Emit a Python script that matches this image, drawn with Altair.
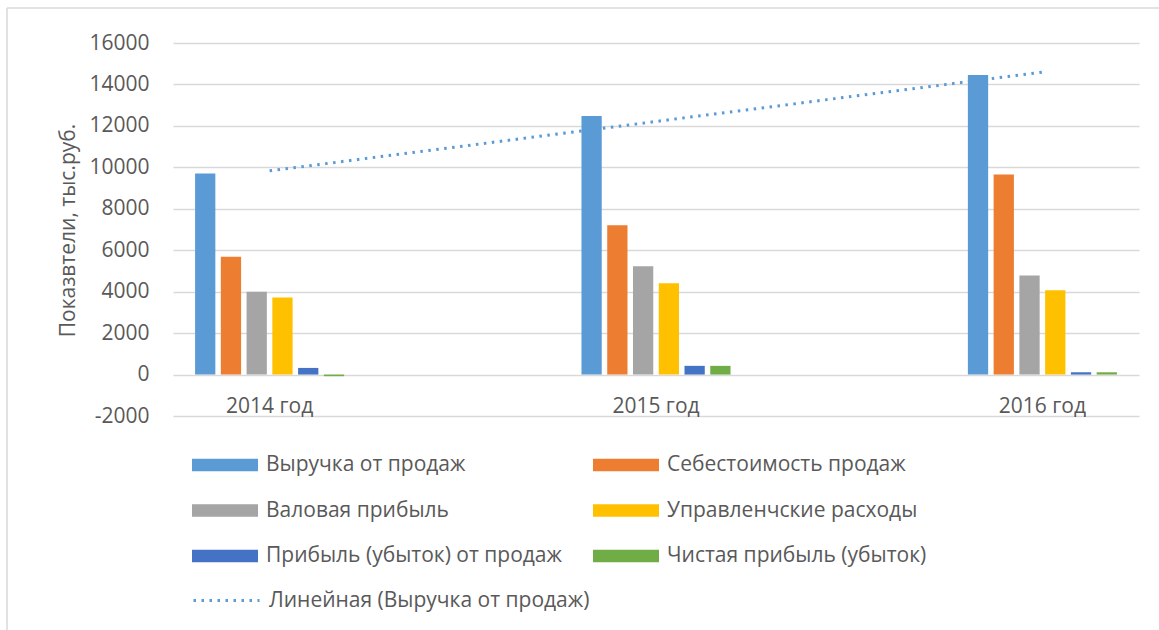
import altair as alt
import pandas as pd

categories = ["2014 год", "2015 год", "2016 год"]
series = [
    "Выручка от продаж",
    "Себестоимость продаж",
    "Валовая прибыль",
    "Управленчские расходы",
    "Прибыль (убыток) от продаж",
    "Чистая прибыль (убыток)",
]
colors = ["#5B9BD5", "#ED7D31", "#A5A5A5", "#FFC000", "#4472C4", "#70AD47"]

revenue = [9700, 12480, 14460]
cost = [5690, 7210, 9650]
gross = [4000, 5230, 4780]
admin = [3720, 4410, 4070]
sales_profit = [320, 420, 110]
net_profit = [-80, 420, 110]

trend_label = "Линейная (Выручка от продаж)"
y_title = "Показвтели, тыс.руб."
y_ticks = [-2000, 0, 2000, 4000, 6000, 8000, 10000, 12000, 14000, 16000]

all_values = [revenue, cost, gross, admin, sales_profit, net_profit]
rows = []
for s, vals in zip(series, all_values):
    for c, v in zip(categories, vals):
        rows.append({"year": c, "series": s, "value": v})
bars_df = pd.DataFrame(rows)
trend_df = pd.DataFrame({"idx": list(range(len(categories))), "revenue": revenue,
                         "trend": [trend_label] * len(categories)})

TXT = "#595959"
GRID = "#D9D9D9"
FS = 21

bars = alt.Chart(bars_df).mark_bar().encode(
    x=alt.X(
        "year:N", sort=categories, title=None,
        scale=alt.Scale(paddingInner=0.6, paddingOuter=0.05),
        axis=alt.Axis(labelAngle=0, domain=False, ticks=False, grid=False,
                      labelBaseline="alphabetic", labelPadding=-3.5,
                      labelFontSize=FS, labelColor=TXT),
    ),
    xOffset=alt.XOffset("series:N", sort=series,
                        scale=alt.Scale(paddingInner=0.213, paddingOuter=0.107)),
    y=alt.Y(
        "value:Q",
        scale=alt.Scale(domain=[-2000, 16000], nice=False),
        axis=alt.Axis(values=y_ticks, labelExpr="'' + datum.value", grid=True,
                      gridColor=GRID, gridWidth=1.3, domain=False, ticks=False,
                      labelPadding=24, labelFontSize=FS, labelColor=TXT,
                      title=y_title, titleFontSize=FS, titleFontWeight="normal",
                      titleColor=TXT, titleAngle=270, titleX=-105, titleY=187,
                      titleAlign="center", titleBaseline="middle"),
    ),
    color=alt.Color(
        "series:N", sort=series,
        scale=alt.Scale(domain=series, range=colors),
        legend=alt.Legend(title=None, orient="none", legendX=19, legendY=389,
                          columns=2, direction="horizontal",
                          symbolType="M-1,-0.19H1V0.19H-1Z", symbolSize=4356,
                          symbolStrokeWidth=0, symbolOpacity=1,
                          labelFontSize=FS, labelColor=TXT, labelOffset=8,
                          labelLimit=0, rowPadding=2.5, columnPadding=31, padding=0),
    ),
)

trend = alt.Chart(trend_df).transform_regression(
    "idx", "revenue", groupby=["trend"]
).mark_line(color="#5B9BD5", strokeWidth=3).encode(
    x=alt.X("idx:Q", scale=alt.Scale(domain=[-0.25, 2.25], nice=False, zero=False), axis=None),
    y=alt.Y("revenue:Q", title=y_title),
    strokeDash=alt.StrokeDash(
        "trend:N",
        scale=alt.Scale(domain=[trend_label], range=[[2.5, 5.5]]),
        legend=alt.Legend(title=None, orient="none", legendX=19, legendY=523,
                          symbolType="M-1,0H1", symbolSize=4356,
                          symbolStrokeColor="#5B9BD5", symbolStrokeWidth=3,
                          labelFontSize=FS, labelColor=TXT, labelOffset=8,
                          labelLimit=0, padding=0),
    ),
)

one = alt.Data(values=[{}])
frame_top = alt.Chart(one).mark_rule(color=GRID, strokeWidth=1.5).encode(
    x=alt.value(-166), x2=alt.value(986), y=alt.value(-35))
frame_left = alt.Chart(one).mark_rule(color=GRID, strokeWidth=1.5).encode(
    x=alt.value(-166), y=alt.value(-35), y2=alt.value(587))

chart = alt.layer(bars, trend, frame_top, frame_left).resolve_scale(
    x="independent"
).properties(
    width=966, height=373, autosize="none",
    padding={"left": 173, "top": 43, "right": 20, "bottom": 214},
    background="white",
).configure(font="Open Sans").configure_view(stroke=None)

chart.save("out.html", embed_options={"renderer": "svg", "actions": False})
